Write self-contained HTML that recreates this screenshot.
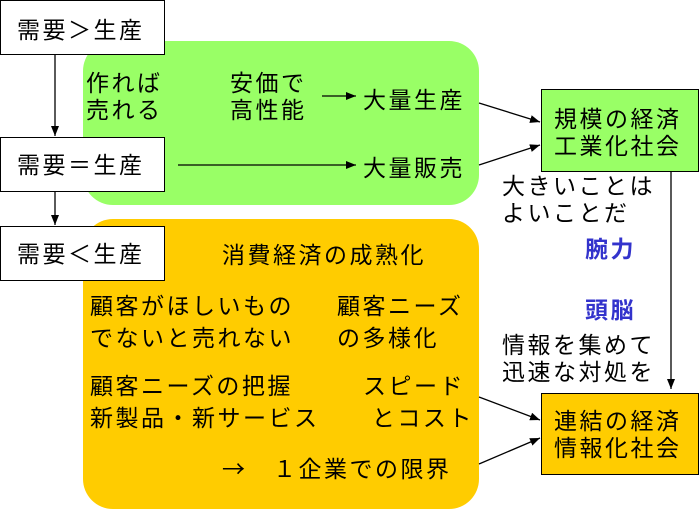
<!DOCTYPE html>
<html><head><meta charset="utf-8"><style>
body{margin:0;width:700px;height:494px;background:#fff;position:relative;overflow:hidden;font-family:"Liberation Sans","Noto Sans CJK JP",sans-serif;}
.a{position:absolute;font-size:23px;letter-spacing:2.5px;line-height:27px;white-space:nowrap;color:#000}
.box{position:absolute;border:1.5px solid #000;box-sizing:border-box}
.b{color:#3333cc;font-weight:bold}
</style></head><body>
<div style="position:absolute;left:83px;top:41px;width:396px;height:164px;background:#99ff66;border-radius:30px"></div>
<div style="position:absolute;left:83px;top:219px;width:396px;height:290px;background:#ffcc00;border-radius:30px"></div>
<div class="box" style="left:0;top:0;width:165px;height:55px;background:#fff"></div>
<div class="box" style="left:0;top:137px;width:165px;height:55px;background:#fff"></div>
<div class="box" style="left:0;top:226px;width:165px;height:55px;background:#fff"></div>
<div class="box" style="left:541px;top:89px;width:158px;height:83px;background:#99ff66"></div>
<div class="box" style="left:541px;top:393px;width:158px;height:82px;background:#ffcc00"></div>
<svg style="position:absolute;left:0;top:0" width="700" height="494">
<defs><marker id="m" markerWidth="10" markerHeight="8" refX="10" refY="4" orient="auto" markerUnits="userSpaceOnUse"><path d="M0,0L10,4L0,8z" fill="#000"/></marker></defs>
<g stroke="#000" stroke-width="1.3" fill="none" marker-end="url(#m)">
<line x1="55" y1="55" x2="55" y2="136"/>
<line x1="55" y1="192" x2="55" y2="225"/>
<line x1="322" y1="96" x2="356" y2="96"/>
<line x1="178" y1="165" x2="356" y2="165"/>
<line x1="479" y1="103" x2="540" y2="122"/>
<line x1="479" y1="165" x2="540" y2="145"/>
<line x1="479" y1="397" x2="540" y2="420"/>
<line x1="479" y1="464" x2="540" y2="438"/>
<line x1="671" y1="172" x2="671" y2="389"/>
</g></svg>
<div class="a" style="left:17px;top:17px">需要＞生産</div>
<div class="a" style="left:17px;top:152px">需要＝生産</div>
<div class="a" style="left:17px;top:241px">需要＜生産</div>
<div class="a" style="left:86px;top:70px">作れば<br>売れる</div>
<div class="a" style="left:230px;top:70px">安価で<br>高性能</div>
<div class="a" style="left:363px;top:87px">大量生産</div>
<div class="a" style="left:363px;top:155px">大量販売</div>
<div class="a" style="left:554px;top:106px">規模の経済<br>工業化社会</div>
<div class="a" style="left:554px;top:408px">連結の経済<br>情報化社会</div>
<div class="a" style="left:222px;top:242px">消費経済の成熟化</div>
<div class="a" style="left:90px;top:290px;line-height:32px">顧客がほしいもの<br>でないと売れない</div>
<div class="a" style="left:337px;top:290px;line-height:32px">顧客ニーズ<br>の多様化</div>
<div class="a" style="left:90px;top:370px;line-height:32px">顧客ニーズの把握<br>新製品・新サービス</div>
<div class="a" style="left:363px;top:370px;line-height:32px">スピード<br>&nbsp;とコスト</div>
<div class="a" style="left:222px;top:454px"><span style="font-family:'Noto Sans CJK JP',sans-serif">→</span>　１企業での限界</div>
<div class="a" style="left:502px;top:173px">大きいことは<br>よいことだ</div>
<div class="a b" style="left:585px;top:236px">腕力</div>
<div class="a b" style="left:585px;top:297px">頭脳</div>
<div class="a" style="left:502px;top:332px">情報を集めて<br>迅速な対処を</div>
</body></html>
